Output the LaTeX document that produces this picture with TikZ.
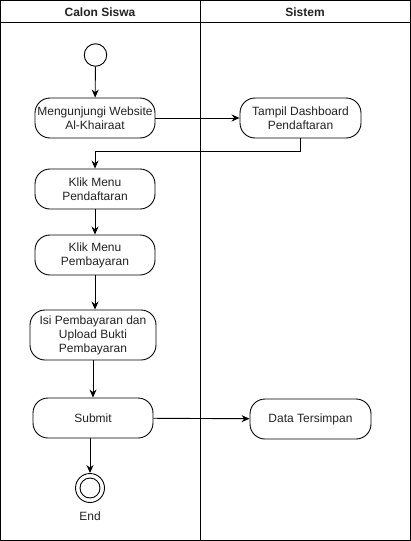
\documentclass[tikz,border=0pt]{standalone}
\usepackage{fontspec}
\setmainfont{Liberation Sans}
\usepackage{tikz}
\usetikzlibrary{arrows.meta, positioning, calc, shapes}
\usepackage{xcolor}
\definecolor{lineblack}{RGB}{0,0,0}
\definecolor{txtgray}{RGB}{34,34,34}

\begin{document}
\begin{tikzpicture}[x=1pt, y=-1pt,
  every node/.style={font=\fontsize{12}{14}\selectfont, text=txtgray},
  act/.style={draw=lineblack, line width=0.9pt, rounded corners=15pt, align=center,
    minimum width=120pt, minimum height=40pt, inner sep=0pt},
  flow/.style={line width=0.9pt, -{Stealth[length=8pt, width=7pt]}}]
  \useasboundingbox (0,0) rectangle (411,541);
  % swimlanes
  \draw[line width=0.9pt] (0.5,0.5) rectangle (410.5,540.5);
  \draw[line width=0.9pt] (0.5,22.5) -- (410.5,22.5);
  \draw[line width=0.9pt] (200.5,0.5) -- (200.5,540.5);
  \node[font=\bfseries\fontsize{12}{14}\selectfont] (laneA) at (100,12) {Calon Siswa};
  \node[font=\bfseries\fontsize{12}{14}\selectfont] (laneB) at (305,12) {Sistem};
  % nodes
  \node[circle, draw=lineblack, line width=0.9pt, minimum size=22.5pt, inner sep=0pt] (start) at (95.5,55) {};
  \node[act] (website) at (95,118) {Mengunjungi Website\\Al-Khairaat};
  \node[act, minimum width=121pt] (dashboard) at (300.5,118) {Tampil Dashboard\\Pendaftaran};
  \node[act] (menudaftar) at (95,189) {Klik Menu\\Pendaftaran};
  \node[act] (menubayar) at (95,255) {Klik Menu\\Pembayaran};
  \node[act, minimum width=126pt, minimum height=50pt] (isibayar) at (93,335) {Isi Pembayaran dan\\Upload Bukti\\Pembayaran};
  \node[act] (submit) at (93,418) {Submit};
  \node[act, minimum width=121pt] (simpan) at (310.5,419) {Data Tersimpan};
  \node[circle, draw=lineblack, line width=0.9pt, minimum size=29pt, inner sep=0pt] (finish) at (90,488) {};
  \node[circle, draw=lineblack, line width=0.9pt, minimum size=20pt, inner sep=0pt] (finishin) at (90,488) {};
  \node (endlbl) at (90,516) {End};
  % edges
  \draw[flow] (start) -- (website);
  \draw[flow] (website) -- (dashboard);
  \draw[flow] (dashboard.south) -- ++(0,12.5) -| (menudaftar.north);
  \draw[flow] (menudaftar) -- (menubayar);
  \draw[flow] (menubayar.south) -- (isibayar.north -| menubayar.south);
  \draw[flow] (isibayar) -- (submit);
  \draw[flow] (submit) -- (simpan);
  \draw[flow] (submit.south -| finish.north) -- (finish.north);
\end{tikzpicture}
\end{document}
